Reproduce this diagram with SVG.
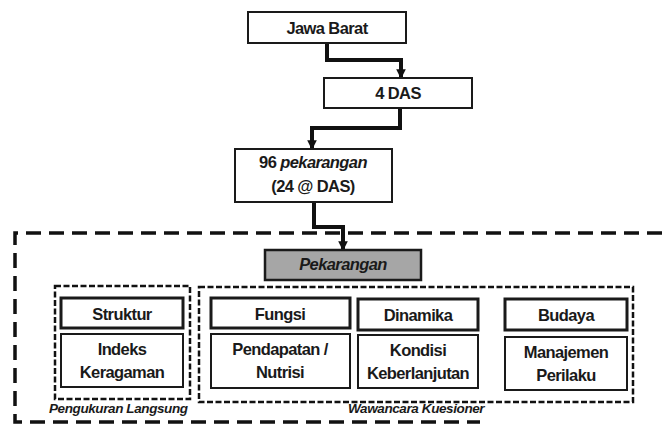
<svg xmlns="http://www.w3.org/2000/svg" width="662" height="429" viewBox="0 0 662 429">
<defs>
<style>
.bg{fill:#ffffff}
.box{fill:#ffffff;stroke:#1a1a1a;stroke-width:2}
.hbox{fill:#ffffff;stroke:#1a1a1a;stroke-width:3}
.pk{fill:#a6a6a6;stroke:#1a1a1a;stroke-width:2.5}
.t{font-family:"Liberation Sans",Arial,sans-serif;font-weight:bold;font-size:16.5px;fill:#1a1a1a;text-anchor:middle;letter-spacing:-0.6px}
.ti{font-style:italic}
.lbl{font-family:"Liberation Sans",Arial,sans-serif;font-weight:bold;font-style:italic;font-size:13.5px;fill:#1a1a1a;letter-spacing:-0.4px}
.conn{fill:none;stroke:#111;stroke-width:4;stroke-linejoin:miter}
.outer{fill:none;stroke:#111;stroke-width:3.5;stroke-dasharray:15 8}
.inner{fill:none;stroke:#111;stroke-width:2.5;stroke-dasharray:6 2.5}
</style>
<marker id="ah" viewBox="0 0 10 10" refX="9" refY="5" markerWidth="2.4" markerHeight="2.6" orient="auto" markerUnits="strokeWidth">
<path d="M0,0 L10,5 L0,10 Z" fill="#111"/>
</marker>
</defs>
<rect class="bg" x="0" y="0" width="662" height="429"/>

<g id="outer-frame">
<path class="outer" d="M662,233 L15,233 L15,422 L480,422"/>
</g>

<g id="connectors">
<path class="conn" marker-end="url(#ah)" d="M327,43 L327,60 L401,60 L401,78"/>
<path class="conn" marker-end="url(#ah)" d="M400,108 L400,128 L312,128 L312,149"/>
<path class="conn" marker-end="url(#ah)" d="M314,202 L314,227 L343,227 L343,250"/>
</g>

<g id="jawa-barat">
<rect class="box" x="248" y="12" width="158" height="31"/>
<text class="t" x="327" y="34">Jawa Barat</text>
</g>

<g id="das">
<rect class="box" x="324" y="78" width="148" height="30"/>
<text class="t" x="398" y="99">4 DAS</text>
</g>

<g id="pekarangan96">
<rect class="box" x="235" y="149" width="157" height="53"/>
<text class="t" x="313" y="168">96 <tspan class="ti">pekarangan</tspan></text>
<text class="t" x="313" y="192">(24 @ DAS)</text>
</g>

<g id="pekarangan">
<rect class="pk" x="265" y="250" width="156" height="30"/>
<text class="t ti" x="343" y="270">Pekarangan</text>
</g>

<g id="group-langsung">
<rect class="inner" x="55" y="286" width="135" height="113"/>
<text class="lbl" x="49" y="413">Pengukuran Langsung</text>
</g>

<g id="group-kuesioner">
<rect class="inner" x="199" y="287" width="434" height="115"/>
<text class="lbl" x="348" y="413">Wawancara Kuesioner</text>
</g>

<g id="struktur">
<rect class="hbox" x="61" y="298" width="122" height="30"/>
<text class="t" x="122" y="320">Struktur</text>
</g>
<g id="indeks">
<rect class="box" x="61" y="334" width="122" height="53"/>
<text class="t" x="122" y="355">Indeks</text>
<text class="t" x="122" y="378">Keragaman</text>
</g>

<g id="fungsi">
<rect class="hbox" x="211" y="298" width="139" height="30"/>
<text class="t" x="280" y="320">Fungsi</text>
</g>
<g id="pendapatan">
<rect class="box" x="211" y="334" width="139" height="54"/>
<text class="t" x="280" y="355">Pendapatan /</text>
<text class="t" x="280" y="378">Nutrisi</text>
</g>

<g id="dinamika">
<rect class="hbox" x="358" y="299" width="120" height="31"/>
<text class="t" x="418" y="321">Dinamika</text>
</g>
<g id="kondisi">
<rect class="box" x="358" y="335" width="120" height="53"/>
<text class="t" x="418" y="356">Kondisi</text>
<text class="t" x="418" y="379">Keberlanjutan</text>
</g>

<g id="budaya">
<rect class="hbox" x="505" y="299" width="122" height="31"/>
<text class="t" x="566" y="321">Budaya</text>
</g>
<g id="manajemen">
<rect class="box" x="505" y="337" width="122" height="53"/>
<text class="t" x="566" y="358">Manajemen</text>
<text class="t" x="566" y="381">Perilaku</text>
</g>
</svg>
